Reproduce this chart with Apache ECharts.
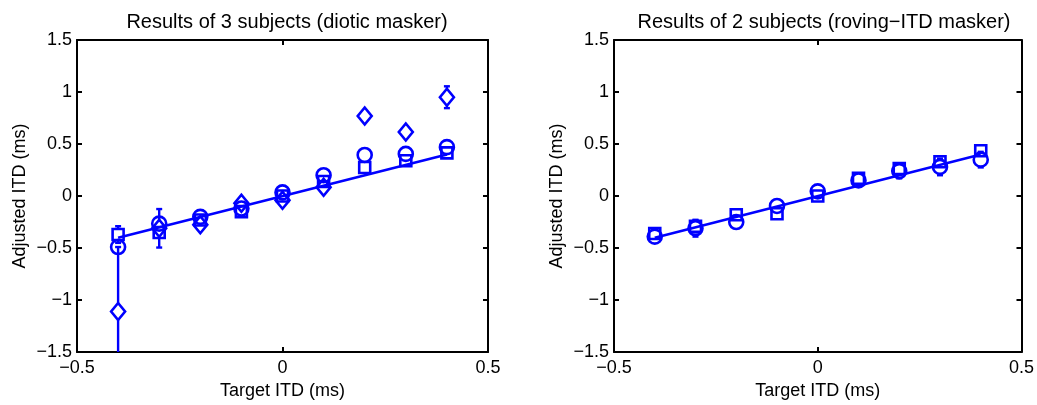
<!DOCTYPE html>
<html>
<head>
<meta charset="utf-8">
<script src="https://cdn.jsdelivr.net/npm/echarts@6/dist/echarts.min.js"></script>
<style>
html,body{margin:0;padding:0;background:#fff;}
#chart{width:1037px;height:405px;}
</style>
</head>
<body>
<div id="chart"></div>
<script>
// ---- data ----
const targetITD = [-0.4, -0.3, -0.2, -0.1, 0, 0.1, 0.2, 0.3, 0.4];
const refLineX = [-0.4, 0.4];

// Left panel: 3 subjects, diotic masker
const leftSquare     = [-0.37, -0.35, -0.23, -0.15, 0.00, 0.14, 0.275, 0.34, 0.415];
const leftSquareErr  = [0.08, 0.03, 0.03, 0.03, 0.02, 0.03, 0.03, 0.03, 0.02];
const leftCircle     = [-0.49, -0.265, -0.2, -0.12, 0.035, 0.2, 0.395, 0.405, 0.47];
const leftCircleErr  = [0.03, 0.03, 0.03, 0.03, 0.02, 0.03, 0.03, 0.03, 0.03];
const leftDiamond    = [-1.11, -0.31, -0.275, -0.07, -0.04, 0.085, 0.77, 0.615, 0.95];
const leftDiamondErr = [0.62, 0.185, 0.03, 0.03, 0.02, 0.04, 0.02, 0.03, 0.105];

// Right panel: 2 subjects, roving-ITD masker
const rightSquare     = [-0.36, -0.29, -0.18, -0.17, 0.00, 0.17, 0.265, 0.33, 0.435];
const rightSquareErr  = [0.03, 0.06, 0.03, 0.03, 0.02, 0.03, 0.04, 0.04, 0.03];
const rightCircle     = [-0.39, -0.31, -0.25, -0.095, 0.045, 0.15, 0.24, 0.28, 0.35];
const rightCircleErr  = [0.02, 0.08, 0.03, 0.03, 0.02, 0.03, 0.07, 0.08, 0.075];

const titles = ['Results of 3 subjects (diotic masker)', 'Results of 2 subjects (roving\u2212ITD masker)'];
const xTitle = 'Target ITD (ms)';
const yTitle = 'Adjusted ITD (ms)';
const xTicks = {min: -0.5, max: 0.5, interval: 0.5};
const yTicks = {min: -1.5, max: 1.5, interval: 0.5};

// ---- chart ----
const BLUE = '#0000ff';
const FONT = 'Liberation Sans, Arial, Helvetica, sans-serif';
const fmt = v => String(v).replace('-', '\u2212');

const grids = [
  {left: 77, top: 40, width: 411, height: 318},
  {left: 614, top: 40, width: 410, height: 318}
];

function xAxes(gi) {
  const base = {
    type: 'value', gridIndex: gi, min: xTicks.min, max: xTicks.max, interval: xTicks.interval,
    splitLine: {show: false},
    axisLine: {show: true, onZero: false, lineStyle: {color: '#000', width: 2}},
    axisTick: {show: true, inside: true, length: 5, lineStyle: {color: '#000', width: 2}}
  };
  return [
    Object.assign({}, base, {
      position: 'bottom',
      axisLabel: {show: true, margin: 7, color: '#000', fontSize: 18, fontFamily: FONT, formatter: fmt},
      name: xTitle, nameLocation: 'middle', nameGap: 26,
      nameTextStyle: {color: '#000', fontSize: 18, fontFamily: FONT}
    }),
    Object.assign({}, base, {position: 'top', axisLabel: {show: false}})
  ];
}
function yAxes(gi) {
  const base = {
    type: 'value', gridIndex: gi, min: yTicks.min, max: yTicks.max, interval: yTicks.interval,
    splitLine: {show: false},
    axisLine: {show: true, onZero: false, lineStyle: {color: '#000', width: 2}},
    axisTick: {show: true, inside: true, length: 5, lineStyle: {color: '#000', width: 2}}
  };
  return [
    Object.assign({}, base, {
      position: 'left',
      axisLabel: {show: true, margin: 5, color: '#000', fontSize: 18, fontFamily: FONT, formatter: fmt},
      name: yTitle, nameLocation: 'middle', nameGap: 48,
      nameTextStyle: {color: '#000', fontSize: 18, fontFamily: FONT}
    }),
    Object.assign({}, base, {position: 'right', axisLabel: {show: false}})
  ];
}

function errData(ys, errs) {
  return targetITD.map((x, i) => [x, ys[i] - errs[i], ys[i] + errs[i], ys[i]]);
}
function makeRenderErr(gap) {
  return function (params, api) {
    const x = api.value(0), lo = api.value(1), hi = api.value(2), c = api.value(3);
    const pHi = api.coord([x, hi]), pLo = api.coord([x, lo]), pC = api.coord([x, c]);
    const w = 3;
    const style = {stroke: BLUE, lineWidth: 2.4, fill: null};
    const ch = [];
    if (pC[1] - pHi[1] > gap) {
      ch.push({type: 'line', shape: {x1: pC[0], y1: pHi[1], x2: pC[0], y2: pC[1] - gap}, style});
      ch.push({type: 'line', shape: {x1: pHi[0] - w, y1: pHi[1], x2: pHi[0] + w, y2: pHi[1]}, style});
    }
    if (pLo[1] - pC[1] > gap) {
      ch.push({type: 'line', shape: {x1: pC[0], y1: pC[1] + gap, x2: pC[0], y2: pLo[1]}, style});
      ch.push({type: 'line', shape: {x1: pLo[0] - w, y1: pLo[1], x2: pLo[0] + w, y2: pLo[1]}, style});
    }
    return {type: 'group', children: ch};
  };
}
function errSeries(xi, yi, ys, errs, gap) {
  return {type: 'custom', xAxisIndex: xi, yAxisIndex: yi, clip: true, silent: true,
          renderItem: makeRenderErr(gap), data: errData(ys, errs), z: 3};
}
function markSeries(xi, yi, ys, symbol, size) {
  return {type: 'scatter', xAxisIndex: xi, yAxisIndex: yi, symbol: symbol, symbolSize: size,
          itemStyle: {color: 'rgba(0,0,0,0)', borderColor: BLUE, borderWidth: 2.6, opacity: 1},
          data: targetITD.map((x, i) => [x, ys[i]]), z: 4, silent: true};
}
function lineSeries(xi, yi) {
  return {type: 'line', xAxisIndex: xi, yAxisIndex: yi, showSymbol: false, symbol: 'none',
          lineStyle: {color: BLUE, width: 2.6}, data: refLineX.map(x => [x, x]), z: 2, silent: true};
}

const option = {
  animation: false,
  backgroundColor: '#fff',
  title: [
    {text: titles[0], left: 282, top: 7, textAlign: 'center',
     textStyle: {color: '#000', fontSize: 20, fontWeight: 'normal', fontFamily: FONT}},
    {text: titles[1], left: 819, top: 7, textAlign: 'center',
     textStyle: {color: '#000', fontSize: 20, fontWeight: 'normal', fontFamily: FONT}}
  ],
  grid: grids,
  xAxis: [...xAxes(0), ...xAxes(1)],
  yAxis: [...yAxes(0), ...yAxes(1)],
  series: [
    lineSeries(0, 0),
    errSeries(0, 0, leftSquare, leftSquareErr, 6),
    errSeries(0, 0, leftCircle, leftCircleErr, 7),
    errSeries(0, 0, leftDiamond, leftDiamondErr, 8.5),
    markSeries(0, 0, leftSquare, 'rect', 11),
    markSeries(0, 0, leftCircle, 'circle', 14),
    markSeries(0, 0, leftDiamond, 'diamond', [14, 17]),
    lineSeries(2, 2),
    errSeries(2, 2, rightSquare, rightSquareErr, 6),
    errSeries(2, 2, rightCircle, rightCircleErr, 7),
    markSeries(2, 2, rightSquare, 'rect', 11),
    markSeries(2, 2, rightCircle, 'circle', 14)
  ]
};
const chart = echarts.init(document.getElementById('chart'), null, {renderer: 'canvas'});
chart.setOption(option);
</script>
</body>
</html>
